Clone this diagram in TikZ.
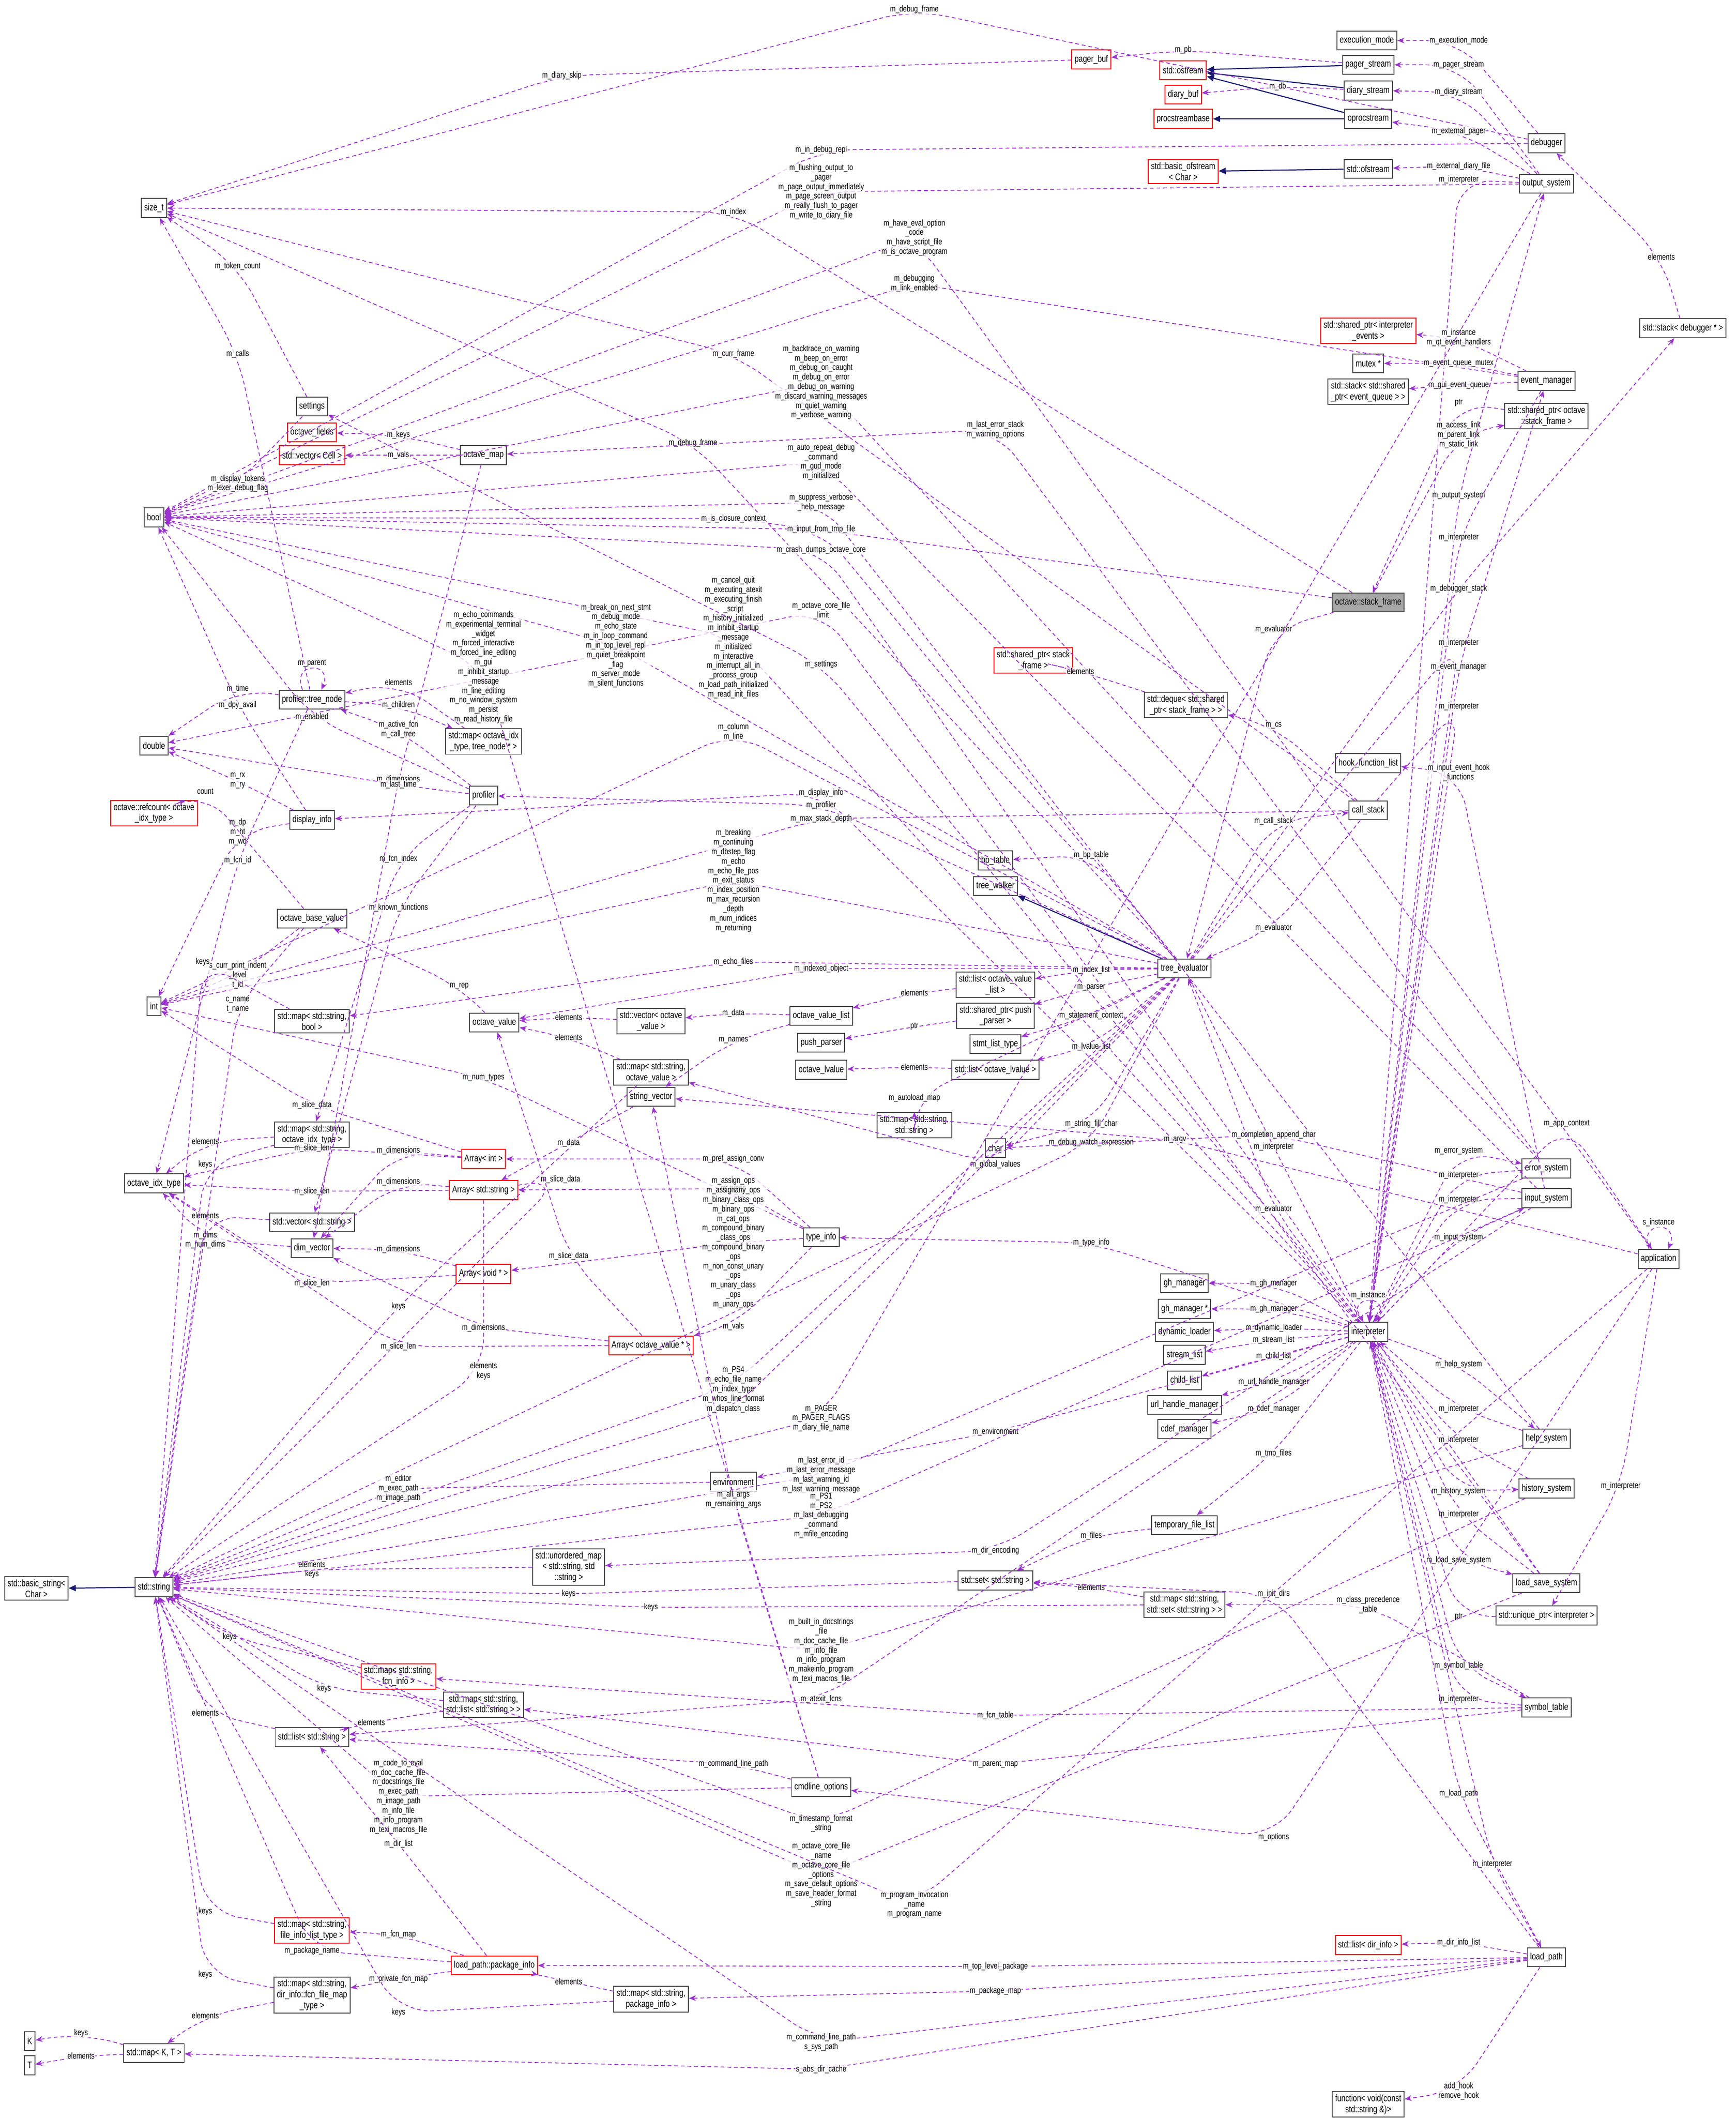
\documentclass[tikz,border=0pt]{standalone}
\usepackage{fontspec}
\setmainfont[FakeStretch=0.78]{Liberation Sans}
\usetikzlibrary{calc,arrows.meta}

\definecolor{usecol}{HTML}{9A32CD}
\definecolor{inhcol}{HTML}{191970}

\tikzset{
  cls/.style={draw=black!70, fill=white, line width=0.4pt, inner sep=1.2pt,
    minimum height=0.28cm, align=center, font=\fontsize{4}{4.6}\selectfont},
  red/.style={cls, draw=red},
  root/.style={cls, fill=black!35},
  use/.style={usecol, dashed, dash pattern=on 1.6pt off 1.2pt, line width=0.35pt,
    rounded corners=14pt, -{Stealth[length=3pt,width=2.4pt]}},
  inh/.style={inhcol, line width=0.45pt, -{Triangle[length=3pt,width=2.6pt]}},
  lbl/.style={font=\fontsize{3.6}{4}\selectfont, align=center, inner sep=0.4pt, text=black,
    fill=white, fill opacity=0.75, text opacity=1}
}

% connector bent through its label
\newcommand\ed[4]{%
  \draw[use] (#1) -- (#3) -- (#2);
  \node[lbl] at (#3) {#4};}
\newcommand\selfloop[2]{%
  \draw[use, rounded corners=0pt] ([xshift=-4pt]#1.north) .. controls +(-5pt,12pt) and +(5pt,12pt) .. ([xshift=4pt]#1.north)
    node[lbl,pos=.5,above]{#2};}

\begin{document}
\begin{tikzpicture}[x=0.02cm,y=-0.02cm]
  \useasboundingbox (0,0) rectangle (1285,1568);

  % right column
  \node[cls] (execmode) at (1012,30) {execution\_mode};
  \node[red] (pagerbuf) at (808,44) {pager\_buf};
  \node[red] (ostream) at (876,52) {std::ostream};
  \node[cls] (pagestream) at (1013,48) {pager\_stream};
  \node[red] (diarybuf) at (876,70) {diary\_buf};
  \node[cls] (diarystream) at (1013,67) {diary\_stream};
  \node[red] (procbase) at (876,88) {procstreambase};
  \node[cls] (oproc) at (1013,88) {oprocstream};
  \node[cls] (debugger) at (1145,106) {debugger};
  \node[red] (basicofs) at (876,127) {std::basic\_ofstream\\< Char >};
  \node[cls] (ofstream) at (1013,125) {std::ofstream};
  \node[cls] (outsys) at (1145,136) {output\_system};
  \node[cls] (stackdbg) at (1246,243) {std::stack< debugger * >};
  \node[red] (shpevents) at (1013,245) {std::shared\_ptr< interpreter\\\_events >};
  \node[cls] (mutex) at (1013,269) {mutex *};
  \node[cls] (stackevq) at (1013,290) {std::stack< std::shared\\\_ptr< event\_queue > >};
  \node[cls] (evmgr) at (1145,282) {event\_manager};
  \node[cls] (shpframe) at (1145,308) {std::shared\_ptr< octave\\::stack\_frame >};
  \node[root] (frame) at (1013,446) {octave::stack\_frame};
  \node[red] (shpstack) at (765,489) {std::shared\_ptr< stack\\\_frame >};
  \node[cls] (deque) at (878,522) {std::deque< std::shared\\\_ptr< stack\_frame > >};
  \node[cls] (hooklist) at (1013,565) {hook\_function\_list};
  \node[cls] (callstack) at (1013,600) {call\_stack};
  \node[cls] (bptable) at (737,637) {bp\_table};
  \node[cls] (treewalker) at (737,656) {tree\_walker};
  \node[cls] (treeeval) at (877,717) {tree\_evaluator};
  \node[cls] (listovl) at (737,729) {std::list< octave\_value\\\_list >};
  \node[cls] (shpparser) at (737,752) {std::shared\_ptr< push\\\_parser >};
  \node[cls] (stmtlist) at (737,773) {stmt\_list\_type};
  \node[cls] (listlval) at (737,792) {std::list< octave\_lvalue >};
  \node[cls] (pushparser) at (608,772) {push\_parser};
  \node[cls] (lvalue) at (608,792) {octave\_lvalue};
  \node[cls] (ovl) at (608,752) {octave\_value\_list};
  \node[cls] (vecov) at (482,756) {std::vector< octave\\\_value >};
  \node[cls] (ovalue) at (366,757) {octave\_value};
  \node[cls] (mapsov) at (482,794) {std::map< std::string,\\octave\_value >};
  \node[cls] (strvec) at (482,812) {string\_vector};
  \node[cls] (mapss) at (677,833) {std::map< std::string,\\std::string >};
  \node[cls] (char) at (737,850) {char};
  \node[cls] (errsys) at (1145,865) {error\_system};
  \node[cls] (inpsys) at (1145,887) {input\_system};
  \node[cls] (app) at (1228,932) {application};
  \node[cls] (typeinfo) at (608,916) {type\_info};
  \node[cls] (ghm) at (877,950) {gh\_manager};
  \node[cls] (ghmp) at (877,969) {gh\_manager *};
  \node[cls] (dynload) at (877,986) {dynamic\_loader};
  \node[cls] (streamlist) at (877,1003) {stream\_list};
  \node[cls] (childlist) at (877,1022) {child\_list};
  \node[cls] (urlhm) at (877,1040) {url\_handle\_manager};
  \node[cls] (cdefm) at (877,1058) {cdef\_manager};
  \node[cls] (interp) at (1013,986) {interpreter};
  \node[cls] (helpsys) at (1145,1065) {help\_system};
  \node[cls] (histsys) at (1145,1102) {history\_system};
  \node[cls] (tmpfiles) at (877,1129) {temporary\_file\_list};
  \node[cls] (umapss) at (421,1160) {std::unordered\_map\\< std::string, std\\::string >};
  \node[cls] (setstr) at (737,1170) {std::set< std::string >};
  \node[cls] (mapsset) at (877,1188) {std::map< std::string,\\std::set< std::string > >};
  \node[cls] (lssys) at (1145,1172) {load\_save\_system};
  \node[cls] (uniqinterp) at (1145,1196) {std::unique\_ptr< interpreter >};
  \node[cls] (symtab) at (1145,1264) {symbol\_table};
  \node[cls] (environ) at (543,1097) {environment};
  \node[cls] (cmdopts) at (608,1323) {cmdline\_options};
  \node[red] (listdirinfo) at (1013,1440) {std::list< dir\_info >};
  \node[cls] (loadpath) at (1145,1449) {load\_path};
  \node[red] (pkginfo) at (366,1455) {load\_path::package\_info};
  \node[cls] (mappkg) at (482,1480) {std::map< std::string,\\package\_info >};
  \node[cls] (func) at (1013,1558) {function< void(const\\std::string \&)>};

  % left columns
  \node[cls] (sizet) at (114,154) {size\_t};
  \node[cls] (bool) at (114,383) {bool};
  \node[cls] (settings) at (231,301) {settings};
  \node[red] (ofields) at (231,320) {octave\_fields};
  \node[red] (veccell) at (231,337) {std::vector< Cell >};
  \node[cls] (omap) at (358,337) {octave\_map};
  \node[cls] (treenode) at (231,518) {profiler::tree\_node};
  \node[cls] (mapidxtn) at (358,549) {std::map< octave\_idx\\\_type, tree\_node * >};
  \node[cls] (double) at (114,552) {double};
  \node[cls] (profiler) at (358,589) {profiler};
  \node[cls] (dispinfo) at (231,607) {display\_info};
  \node[red] (refcount) at (114,602) {octave::refcount< octave\\\_idx\_type >};
  \node[cls] (obv) at (231,680) {octave\_base\_value};
  \node[cls] (int) at (114,745) {int};
  \node[cls] (mapsb) at (231,756) {std::map< std::string,\\bool >};
  \node[cls] (mapsidx) at (231,840) {std::map< std::string,\\octave\_idx\_type >};
  \node[red] (arrint) at (358,858) {Array< int >};
  \node[cls] (idxtype) at (114,876) {octave\_idx\_type};
  \node[red] (arrstr) at (358,881) {Array< std::string >};
  \node[cls] (vecstr) at (231,905) {std::vector< std::string >};
  \node[cls] (dimvec) at (231,924) {dim\_vector};
  \node[red] (arrvoid) at (358,943) {Array< void * >};
  \node[red] (arrov) at (482,996) {Array< octave\_value * >};
  \node[cls] (basicstr) at (27,1176) {std::basic\_string<\\Char >};
  \node[cls] (string) at (114,1175) {std::string};
  \node[red] (mapsfcn) at (295,1241) {std::map< std::string,\\fcn\_info >};
  \node[cls] (mapslist) at (358,1262) {std::map< std::string,\\std::list< std::string > >};
  \node[cls] (liststr) at (231,1286) {std::list< std::string >};
  \node[red] (mapsfil) at (231,1429) {std::map< std::string,\\file\_info\_list\_type >};
  \node[cls] (mapsffm) at (231,1477) {std::map< std::string,\\dir\_info::fcn\_file\_map\\\_type >};
  \node[cls] (K) at (22,1511) {K};
  \node[cls] (T) at (22,1529) {T};
  \node[cls] (mapkt) at (114,1520) {std::map< K, T >};

  % inheritance
  \draw[inh] (pagestream) -- (ostream);
  \draw[inh] (diarystream) -- (ostream);
  \draw[inh] (oproc) -- (ostream);
  \draw[inh] (oproc) -- (procbase);
  \draw[inh] (ofstream) -- (basicofs);
  \draw[inh] (treeeval) -- (treewalker);
  \draw[inh] (string) -- (basicstr);

  % members, top part
  \ed{debugger}{sizet}{677,7}{m\_debug\_frame}
  \ed{debugger}{execmode}{1080,30}{m\_execution\_mode}
  \ed{pagerbuf}{sizet}{416,56}{m\_diary\_skip}
  \ed{pagestream}{pagerbuf}{876,37}{m\_pb}
  \ed{outsys}{pagestream}{1080,48}{m\_pager\_stream}
  \ed{diarystream}{diarybuf}{946,64}{m\_db}
  \ed{outsys}{diarystream}{1080,68}{m\_diary\_stream}
  \ed{outsys}{oproc}{1080,97}{m\_external\_pager}
  \ed{debugger}{bool}{608,111}{m\_in\_debug\_repl}
  \ed{outsys}{ofstream}{1080,123}{m\_external\_diary\_file}
  \ed{outsys}{interp}{1080,133}{m\_interpreter}
  \ed{outsys}{bool}{608,142}{m\_flushing\_output\_to\\\_pager\\m\_page\_output\_immediately\\m\_page\_screen\_output\\m\_really\_flush\_to\_pager\\m\_write\_to\_diary\_file}
  \ed{frame}{sizet}{543,157}{m\_index}
  \ed{app}{bool}{677,176}{m\_have\_eval\_option\\\_code\\m\_have\_script\_file\\m\_is\_octave\_program}
  \ed{stackdbg}{debugger}{1230,190}{elements}
  \ed{evmgr}{bool}{677,210}{m\_debugging\\m\_link\_enabled}
  \ed{evmgr}{shpevents}{1080,250}{m\_instance\\m\_qt\_event\_handlers}
  \ed{evmgr}{mutex}{1080,269}{m\_event\_queue\_mutex}
  \ed{evmgr}{stackevq}{1080,285}{m\_gui\_event\_queue}
  \ed{callstack}{sizet}{543,262}{m\_curr\_frame}
  \ed{errsys}{bool}{608,283}{m\_backtrace\_on\_warning\\m\_beep\_on\_error\\m\_debug\_on\_caught\\m\_debug\_on\_error\\m\_debug\_on\_warning\\m\_discard\_warning\_messages\\m\_quiet\_warning\\m\_verbose\_warning}
  \ed{shpframe}{frame}{1080,298}{ptr}
  \ed{treeeval}{sizet}{513,328}{m\_debug\_frame}
  \ed{errsys}{omap}{737,318}{m\_last\_error\_stack\\m\_warning\_options}
  \ed{frame}{shpframe}{1080,322}{m\_access\_link\\m\_parent\_link\\m\_static\_link}
  \ed{inpsys}{bool}{608,342}{m\_auto\_repeat\_debug\\\_command\\m\_gud\_mode\\m\_initialized}
  \ed{interp}{outsys}{1080,367}{m\_output\_system}
  \ed{helpsys}{bool}{608,372}{m\_suppress\_verbose\\\_help\_message}
  \ed{frame}{bool}{543,384}{m\_is\_closure\_context}
  \ed{treeeval}{bool}{608,392}{m\_input\_from\_tmp\_file}
  \ed{evmgr}{interp}{1080,398}{m\_interpreter}
  \ed{lssys}{bool}{608,407}{m\_crash\_dumps\_octave\_core}
  \ed{treeeval}{stackdbg}{1080,436}{m\_debugger\_stack}
  \ed{lssys}{double}{608,452}{m\_octave\_core\_file\\\_limit}
  \ed{frame}{treeeval}{943,466}{m\_evaluator}
  \ed{interp}{bool}{543,472}{m\_cancel\_quit\\m\_executing\_atexit\\m\_executing\_finish\\\_script\\m\_history\_initialized\\m\_inhibit\_startup\\\_message\\m\_initialized\\m\_interactive\\m\_interrupt\_all\_in\\\_process\_group\\m\_load\_path\_initialized\\m\_read\_init\_files}
  \ed{treeeval}{interp}{1080,476}{m\_interpreter}
  \ed{treeeval}{bool}{456,478}{m\_break\_on\_next\_stmt\\m\_debug\_mode\\m\_echo\_state\\m\_in\_loop\_command\\m\_in\_top\_level\_repl\\m\_quiet\_breakpoint\\\_flag\\m\_server\_mode\\m\_silent\_functions}
  \ed{cmdopts}{bool}{358,494}{m\_echo\_commands\\m\_experimental\_terminal\\\_widget\\m\_forced\_interactive\\m\_forced\_line\_editing\\m\_gui\\m\_inhibit\_startup\\\_message\\m\_line\_editing\\m\_no\_window\_system\\m\_persist\\m\_read\_history\_file}
  \ed{interp}{evmgr}{1080,494}{m\_event\_manager}
  \ed{interp}{settings}{608,492}{m\_settings}
  \ed{deque}{shpstack}{800,497}{elements}
  \ed{callstack}{interp}{1080,523}{m\_interpreter}
  \ed{callstack}{deque}{943,537}{m\_cs}
  \ed{treeeval}{int}{543,542}{m\_column\\m\_line}
  \ed{inpsys}{hooklist}{1080,572}{m\_input\_event\_hook\\\_functions}
  \ed{interp}{dispinfo}{608,587}{m\_display\_info}
  \ed{treeeval}{profiler}{608,596}{m\_profiler}
  \ed{callstack}{int}{608,606}{m\_max\_stack\_depth}
  \ed{treeeval}{callstack}{943,608}{m\_call\_stack}
  \ed{treeeval}{bptable}{808,633}{m\_bp\_table}
  \ed{callstack}{treeeval}{943,687}{m\_evaluator}
  \ed{treeeval}{int}{543,652}{m\_breaking\\m\_continuing\\m\_dbstep\_flag\\m\_echo\\m\_echo\_file\_pos\\m\_exit\_status\\m\_index\_position\\m\_max\_recursion\\\_depth\\m\_num\_indices\\m\_returning}
  \ed{treeeval}{mapsb}{543,712}{m\_echo\_files}
  \ed{treeeval}{ovalue}{608,717}{m\_indexed\_object}
  \ed{treeeval}{listovl}{808,718}{m\_index\_list}
  \ed{treeeval}{shpparser}{808,731}{m\_parser}
  \ed{treeeval}{stmtlist}{808,752}{m\_statement\_context}
  \ed{treeeval}{listlval}{808,775}{m\_lvalue\_list}
  \ed{listovl}{ovl}{677,735}{elements}
  \ed{shpparser}{pushparser}{677,760}{ptr}
  \ed{listlval}{lvalue}{677,790}{elements}
  \ed{ovl}{vecov}{543,750}{m\_data}
  \ed{vecov}{ovalue}{421,753}{elements}
  \ed{ovl}{strvec}{543,770}{m\_names}
  \ed{mapsov}{ovalue}{421,768}{elements}
  \ed{ovalue}{obv}{340,730}{m\_rep}
  \ed{treeeval}{mapss}{677,813}{m\_autoload\_map}
  \ed{treeeval}{char}{808,832}{m\_string\_fill\_char}
  \ed{treeeval}{string}{808,846}{m\_debug\_watch\_expression}
  \ed{inpsys}{char}{943,840}{m\_completion\_append\_char}
  \ed{treeeval}{mapsov}{737,862}{m\_global\_values}
  \ed{interp}{app}{1160,832}{m\_app\_context}
  \ed{app}{strvec}{870,844}{m\_argv}
  \ed{interp}{errsys}{1080,852}{m\_error\_system}
  \ed{errsys}{interp}{1080,870}{m\_interpreter}
  \ed{inpsys}{interp}{1080,888}{m\_interpreter}
  \ed{interp}{inpsys}{1080,916}{m\_input\_system}
  \ed{interp}{treeeval}{943,895}{m\_evaluator}
  \ed{treeeval}{interp}{943,849}{m\_interpreter}
  \ed{interp}{typeinfo}{808,920}{m\_type\_info}
  \ed{interp}{ghm}{943,950}{m\_gh\_manager}
  \ed{interp}{ghmp}{943,969}{m\_gh\_manager}
  \ed{interp}{dynload}{943,983}{m\_dynamic\_loader}
  \ed{interp}{streamlist}{943,992}{m\_stream\_list}
  \ed{interp}{childlist}{943,1004}{m\_child\_list}
  \ed{interp}{urlhm}{943,1023}{m\_url\_handle\_manager}
  \ed{interp}{cdefm}{943,1043}{m\_cdef\_manager}
  \selfloop{interp}{m\_instance}
  \selfloop{app}{s\_instance}
  \selfloop{treenode}{m\_parent}
  \ed{interp}{helpsys}{1080,1010}{m\_help\_system}
  \ed{helpsys}{interp}{1080,1043}{m\_interpreter}
  \ed{histsys}{interp}{1080,1066}{m\_interpreter}
  \ed{interp}{histsys}{1080,1104}{m\_history\_system}
  \ed{lssys}{interp}{1080,1121}{m\_interpreter}
  \ed{interp}{lssys}{1080,1155}{m\_load\_save\_system}
  \ed{uniqinterp}{interp}{1080,1197}{ptr}
  \ed{app}{uniqinterp}{1200,1100}{m\_interpreter}
  \ed{interp}{symtab}{1080,1233}{m\_symbol\_table}
  \ed{symtab}{interp}{1080,1258}{m\_interpreter}
  \ed{interp}{loadpath}{1080,1328}{m\_load\_path}
  \ed{loadpath}{interp}{1105,1380}{m\_interpreter}
  \ed{app}{cmdopts}{943,1360}{m\_options}
  \ed{interp}{environ}{737,1060}{m\_environment}
  \ed{interp}{tmpfiles}{943,1076}{m\_tmp\_files}
  \ed{tmpfiles}{setstr}{808,1137}{m\_files}
  \ed{mapsset}{setstr}{808,1175}{elements}
  \ed{inpsys}{umapss}{737,1148}{m\_dir\_encoding}
  \ed{loadpath}{setstr}{943,1180}{m\_init\_dirs}
  \ed{symtab}{mapsset}{1013,1188}{m\_class\_precedence\\\_table}
  \ed{setstr}{string}{421,1180}{keys}
  \ed{mapsset}{string}{482,1190}{keys}
  \ed{umapss}{string}{231,1162}{elements\\keys}
  \ed{errsys}{string}{608,1092}{m\_last\_error\_id\\m\_last\_error\_message\\m\_last\_warning\_id\\m\_last\_warning\_message}
  \ed{inpsys}{string}{608,1122}{m\_PS1\\m\_PS2\\m\_last\_debugging\\\_command\\m\_mfile\_encoding}
  \ed{treeeval}{string}{543,1025}{m\_PS4\\m\_echo\_file\_name\\m\_index\_type\\m\_whos\_line\_format}
  \ed{outsys}{string}{608,1050}{m\_PAGER\\m\_PAGER\_FLAGS\\m\_diary\_file\_name}
  \ed{cmdopts}{strvec}{543,1110}{m\_all\_args\\m\_remaining\_args}
  \ed{environ}{string}{295,1102}{m\_editor\\m\_exec\_path\\m\_image\_path}
  \ed{treeeval}{string}{543,1043}{m\_dispatch\_class}
  \ed{helpsys}{string}{608,1222}{m\_built\_in\_docstrings\\\_file\\m\_doc\_cache\_file\\m\_info\_file\\m\_info\_program\\m\_makeinfo\_program\\m\_texi\_macros\_file}
  \ed{interp}{liststr}{608,1258}{m\_atexit\_fcns}
  \ed{symtab}{mapsfcn}{737,1270}{m\_fcn\_table}
  \ed{symtab}{mapslist}{737,1306}{m\_parent\_map}
  \ed{cmdopts}{liststr}{543,1306}{m\_command\_line\_path}
  \ed{histsys}{string}{608,1350}{m\_timestamp\_format\\\_string}
  \ed{cmdopts}{string}{295,1330}{m\_code\_to\_eval\\m\_doc\_cache\_file\\m\_docstrings\_file\\m\_exec\_path\\m\_image\_path\\m\_info\_file\\m\_info\_program\\m\_texi\_macros\_file}
  \ed{lssys}{string}{608,1388}{m\_octave\_core\_file\\\_name\\m\_octave\_core\_file\\\_options\\m\_save\_default\_options\\m\_save\_header\_format\\\_string}
  \ed{app}{string}{677,1410}{m\_program\_invocation\\\_name\\m\_program\_name}
  \ed{pkginfo}{liststr}{295,1365}{m\_dir\_list}
  \ed{pkginfo}{mapsfil}{295,1432}{m\_fcn\_map}
  \ed{pkginfo}{mapsffm}{295,1465}{m\_private\_fcn\_map}
  \ed{pkginfo}{string}{231,1444}{m\_package\_name}
  \ed{loadpath}{pkginfo}{737,1456}{m\_top\_level\_package}
  \ed{mappkg}{pkginfo}{421,1467}{elements}
  \ed{loadpath}{mappkg}{737,1474}{m\_package\_map}
  \ed{loadpath}{listdirinfo}{1080,1438}{m\_dir\_info\_list}
  \ed{loadpath}{string}{608,1512}{m\_command\_line\_path\\s\_sys\_path}
  \ed{loadpath}{mapkt}{608,1532}{s\_abs\_dir\_cache}
  \ed{loadpath}{func}{1080,1548}{add\_hook\\remove\_hook}
  \ed{mapkt}{K}{60,1505}{keys}
  \ed{mapkt}{T}{60,1522}{elements}
  \ed{mapsffm}{mapkt}{152,1492}{elements}
  \ed{mapsfil}{string}{152,1415}{keys}
  \ed{mapsffm}{string}{152,1462}{keys}
  \ed{mappkg}{string}{295,1490}{keys}
  \ed{mapsfcn}{string}{170,1212}{keys}
  \ed{mapslist}{string}{240,1250}{keys}
  \ed{liststr}{string}{152,1268}{elements}
  \ed{mapslist}{liststr}{275,1275}{elements}

  % members, left part
  \ed{arrstr}{string}{358,1015}{elements\\keys}
  \ed{mapsov}{string}{295,967}{keys}
  \ed{arrint}{int}{231,818}{m\_slice\_data}
  \ed{arrint}{idxtype}{231,850}{m\_slice\_len}
  \ed{arrint}{dimvec}{295,852}{m\_dimensions}
  \ed{arrstr}{idxtype}{231,882}{m\_slice\_len}
  \ed{arrstr}{dimvec}{295,875}{m\_dimensions}
  \ed{arrstr}{string}{415,873}{m\_slice\_data}
  \ed{strvec}{arrstr}{421,846}{m\_data}
  \ed{arrvoid}{dimvec}{295,925}{m\_dimensions}
  \ed{arrvoid}{idxtype}{231,950}{m\_slice\_len}
  \ed{arrov}{idxtype}{295,997}{m\_slice\_len}
  \ed{arrov}{ovalue}{421,930}{m\_slice\_data}
  \ed{arrov}{dimvec}{358,983}{m\_dimensions}
  \ed{dimvec}{idxtype}{152,918}{m\_dims\\m\_num\_dims}
  \ed{vecstr}{string}{152,900}{elements}
  \ed{mapsidx}{idxtype}{152,845}{elements}
  \ed{mapsidx}{string}{152,862}{keys}
  \ed{typeinfo}{int}{358,798}{m\_num\_types}
  \ed{typeinfo}{arrstr}{543,880}{m\_types}
  \ed{typeinfo}{arrint}{543,858}{m\_pref\_assign\_conv}
  \ed{typeinfo}{arrvoid}{543,920}{m\_assign\_ops\\m\_assignany\_ops\\m\_binary\_class\_ops\\m\_binary\_ops\\m\_cat\_ops\\m\_compound\_binary\\\_class\_ops\\m\_compound\_binary\\\_ops\\m\_non\_const\_unary\\\_ops\\m\_unary\_class\\\_ops\\m\_unary\_ops}
  \ed{typeinfo}{arrov}{543,982}{m\_vals}
  \ed{profiler}{mapsidx}{295,636}{m\_fcn\_index}
  \ed{profiler}{vecstr}{295,672}{m\_known\_functions}
  \ed{omap}{dimvec}{295,577}{m\_dimensions}
  \ed{treenode}{mapidxtn}{295,522}{m\_children}
  \ed{mapidxtn}{treenode}{295,505}{elements}
  \ed{profiler}{bool}{231,531}{m\_enabled}
  \ed{profiler}{treenode}{295,540}{m\_active\_fcn\\m\_call\_tree}
  \ed{treenode}{double}{176,510}{m\_time}
  \ed{dispinfo}{bool}{176,522}{m\_dpy\_avail}
  \ed{profiler}{double}{295,581}{m\_last\_time}
  \ed{dispinfo}{double}{176,578}{m\_rx\\m\_ry}
  \ed{dispinfo}{int}{176,616}{m\_dp\\m\_ht\\m\_wd}
  \ed{treenode}{idxtype}{176,637}{m\_fcn\_id}
  \ed{obv}{refcount}{152,586}{count}
  \ed{obv}{int}{176,722}{s\_curr\_print\_indent\\\_level\\t\_id}
  \ed{obv}{string}{176,744}{c\_name\\t\_name}
  \ed{mapsb}{string}{150,712}{keys}
  \ed{settings}{bool}{176,358}{m\_display\_tokens\\m\_lexer\_debug\_flag}
  \ed{treenode}{sizet}{176,262}{m\_calls}
  \ed{settings}{sizet}{176,197}{m\_token\_count}
  \ed{omap}{ofields}{295,322}{m\_keys}
  \ed{omap}{veccell}{295,337}{m\_vals}
\end{tikzpicture}
\end{document}
